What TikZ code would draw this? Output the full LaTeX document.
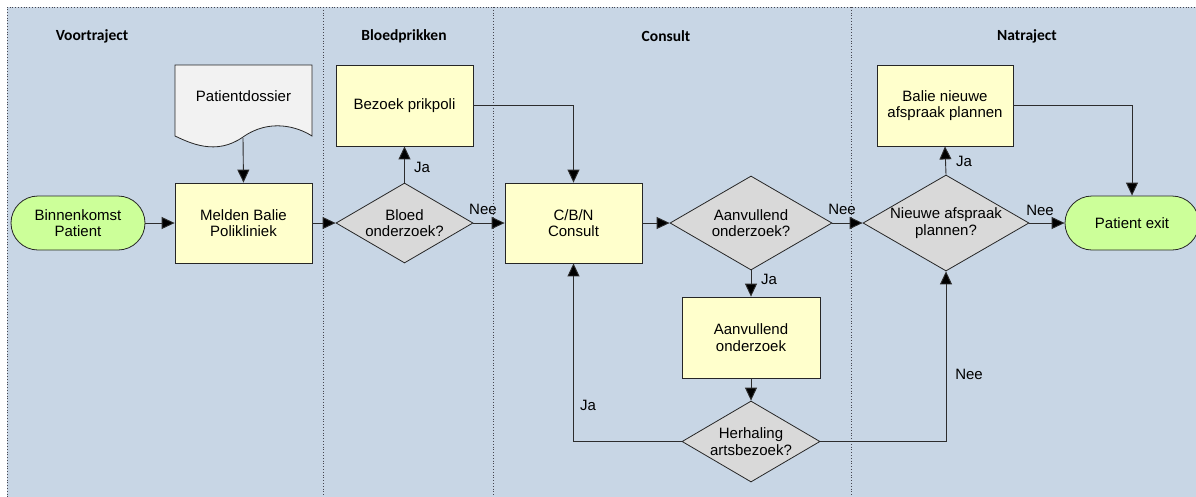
\documentclass[tikz,border=0pt]{standalone}
\usepackage{fontspec}
\setmainfont{Liberation Sans}
\newfontfamily\headfont{Carlito}
\usetikzlibrary{shapes.geometric,arrows.meta}
\definecolor{lanebg}{RGB}{200,214,229}
\definecolor{procfill}{RGB}{255,255,204}
\definecolor{decfill}{RGB}{217,217,217}
\definecolor{termfill}{RGB}{204,255,153}
\definecolor{docfill}{RGB}{242,242,242}
\definecolor{flowline}{RGB}{45,45,45}
\definecolor{divline}{RGB}{70,70,80}
\tikzset{
  every node/.style={font=\fontsize{15}{16.7}\selectfont, text=black},
  proc/.style={rectangle, draw=black!85, line width=0.8pt, fill=procfill,
    align=center, inner sep=0pt},
  dec/.style={diamond, draw=black!85, line width=0.8pt, fill=decfill, inner sep=0pt},
  term/.style={rectangle, rounded corners=27pt, draw=black!85, line width=0.8pt,
    fill=termfill, align=center, inner sep=0pt, minimum width=134pt, minimum height=54pt},
  flow/.style={draw=flowline, line width=0.9pt,
    -{Triangle[length=13pt,width=12pt,fill=black]}},
  lbl/.style={inner sep=0pt},
  lanehead/.style={font=\headfont\bfseries\fontsize{15.5}{18}\selectfont},
  divider/.style={draw=divline, line width=0.8pt, dotted}
}
\begin{document}
\begin{tikzpicture}[x=1pt, y=-1pt]
  \useasboundingbox (0,0) rectangle (1196,496);
  % swimlane background and borders
  \fill[lanebg] (7,7) rectangle (1200,500);
  \draw[divider] (7,500) -- (7,7) -- (1200,7);
  \draw[divider] (323,7) -- (323,500);
  \draw[divider] (493,7) -- (493,500);
  \draw[divider] (851,7) -- (851,500);

  % lane titles
  \node[lanehead] (h1) at (92,36) {Voortraject};
  \node[lanehead] (h2) at (404,36) {Bloedprikken};
  \node[lanehead] (h3) at (666,36) {Consult};
  \node[lanehead] (h4) at (1027,36) {Natraject};

  % document symbol
  \filldraw[fill=docfill, draw=black!85, line width=0.8pt]
    (175,65) -- (312,65) -- (312,136)
    .. controls (298,127) and (270,118) .. (243,137)
    .. controls (216,156) and (190,143) .. (175,136) -- cycle;
  \node (doc) at (243.5,96) {Patientdossier};
  \coordinate (docb) at (243,138);

  % process steps
  \node[term] (start) at (78,223) {Binnenkomst\\Patient};
  \node[proc, minimum width=137pt, minimum height=80pt] (melden) at (243.5,223) {Melden Balie\\Polikliniek};
  \node[dec, minimum width=137pt, minimum height=80pt,
        label={[align=center]center:Bloed\\onderzoek?}] (bloed) at (404.5,223) {};
  \node[proc, minimum width=137pt, minimum height=81pt] (bezoek) at (404.5,105.5) {Bezoek prikpoli};
  \node[proc, minimum width=137pt, minimum height=80pt] (consult) at (573.5,223) {C/B/N\\Consult};
  \node[dec, minimum width=162pt, minimum height=94pt,
        label={[align=center]center:Aanvullend\\onderzoek?}] (aanv) at (751,223) {};
  \node[proc, minimum width=138pt, minimum height=81pt] (aanvbox) at (751,337.5) {Aanvullend\\onderzoek};
  \node[dec, minimum width=138pt, minimum height=81pt,
        label={[align=center]center:Herhaling\\artsbezoek?}] (herh) at (751,441.5) {};
  \node[dec, minimum width=166pt, minimum height=96pt,
        label={[align=center]center:Nieuwe afspraak\\plannen?}] (nieuw) at (946,223) {};
  \node[proc, minimum width=136pt, minimum height=81pt] (balie) at (945,105.5) {Balie nieuwe\\afspraak plannen};
  \node[term] (exit) at (1132,223) {Patient exit};

  % connectors
  \draw[flow] (start) -- (melden);
  \draw[flow] (docb) -- (melden.north);
  \draw[flow] (melden) -- (bloed);
  \draw[flow] (bloed.north) -- (bezoek.south);
  \draw[flow] (bloed.east) -- (consult.west);
  \draw[flow] (bezoek.east) -| (consult.north);
  \draw[flow] (consult.east) -- (aanv.west);
  \draw[flow] (aanv.south) -- (aanvbox.north);
  \draw[flow] (aanvbox.south) -- (herh.north);
  \draw[flow] (herh.west) -| (consult.south);
  \draw[flow] (aanv.east) -- (nieuw.west);
  \draw[flow] (herh.east) -| (nieuw.south);
  \draw[flow] (nieuw.north) -- (balie.south);
  \draw[flow] (nieuw.east) -- (exit.west);
  \draw[flow] (balie.east) -| (exit.north);

  % connector labels
  \node[lbl] (l1) at (422,167) {Ja};
  \node[lbl] (l2) at (483,209) {Nee};
  \node[lbl] (l3) at (842,209) {Nee};
  \node[lbl] (l4) at (769,279) {Ja};
  \node[lbl] (l5) at (588,405) {Ja};
  \node[lbl] (l6) at (969,374) {Nee};
  \node[lbl] (l7) at (964,161) {Ja};
  \node[lbl] (l8) at (1040,210) {Nee};
\end{tikzpicture}
\end{document}
